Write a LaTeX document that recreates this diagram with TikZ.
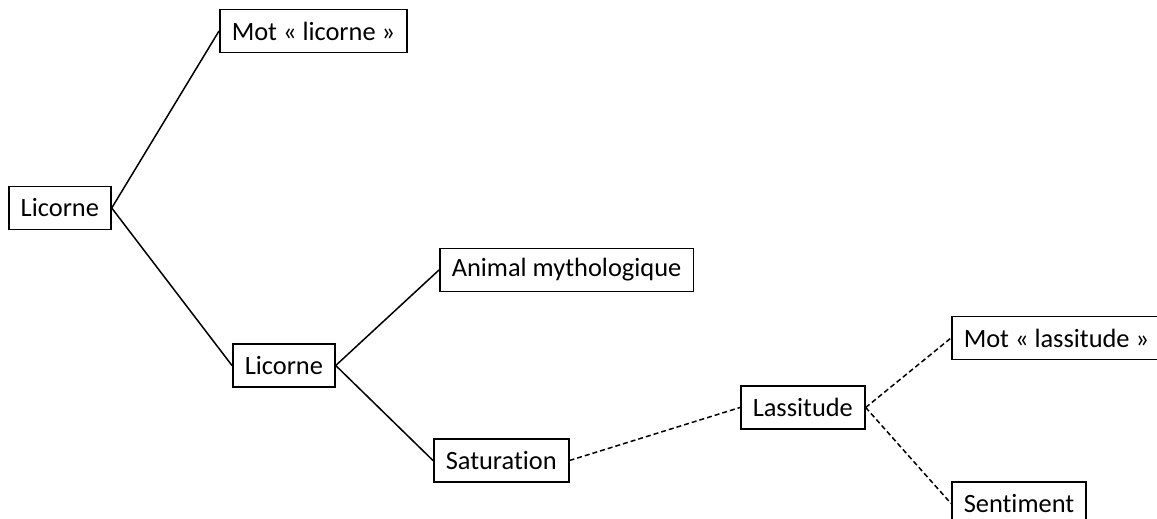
\documentclass[tikz,border=0pt]{standalone}
\usepackage{fontspec}
\setmainfont{Carlito}[Ligatures=NoCommon]
\usepackage{tikz}
\usetikzlibrary{positioning}

\begin{document}
\begin{tikzpicture}[x=0.5pt,y=-0.5pt,
    box/.style={draw,line width=0.75pt,anchor=west,inner xsep=6pt,
      minimum height=21.5pt,font=\fontsize{13.2}{15}\selectfont},
    link/.style={line width=0.75pt},
    weak/.style={line width=0.75pt,dash pattern=on 2.5pt off 1.5pt}]
        \clip (0,0) rectangle (1157,519);
        % boxes
        \node[box] (root)   at (8,208)     {Licorne};
        \node[box] (motlic) at (219,31)    {Mot « licorne »};
        \node[box] (lic)    at (232,365.5) {Licorne};
        \node[box] (animal) at (439,270)   {Animal mythologique};
        \node[box] (satur)  at (433,460.5) {Saturation};
        \node[box] (lassi)  at (740,407.5) {Lassitude};
        \node[box] (motlas) at (951,338)   {Mot « lassitude »\hspace{4pt}};
        \node[box] (sentim) at (951,503.5) {Sentiment};
        % links
        \foreach \a/\b in {root/motlic, root/lic, lic/animal, lic/satur}
          \draw[link] (\a.east) -- (\b.west);
        \foreach \a/\b in {satur/lassi, lassi/motlas, lassi/sentim}
          \draw[weak] (\a.east) -- (\b.west);
      \end{tikzpicture}
\end{document}
